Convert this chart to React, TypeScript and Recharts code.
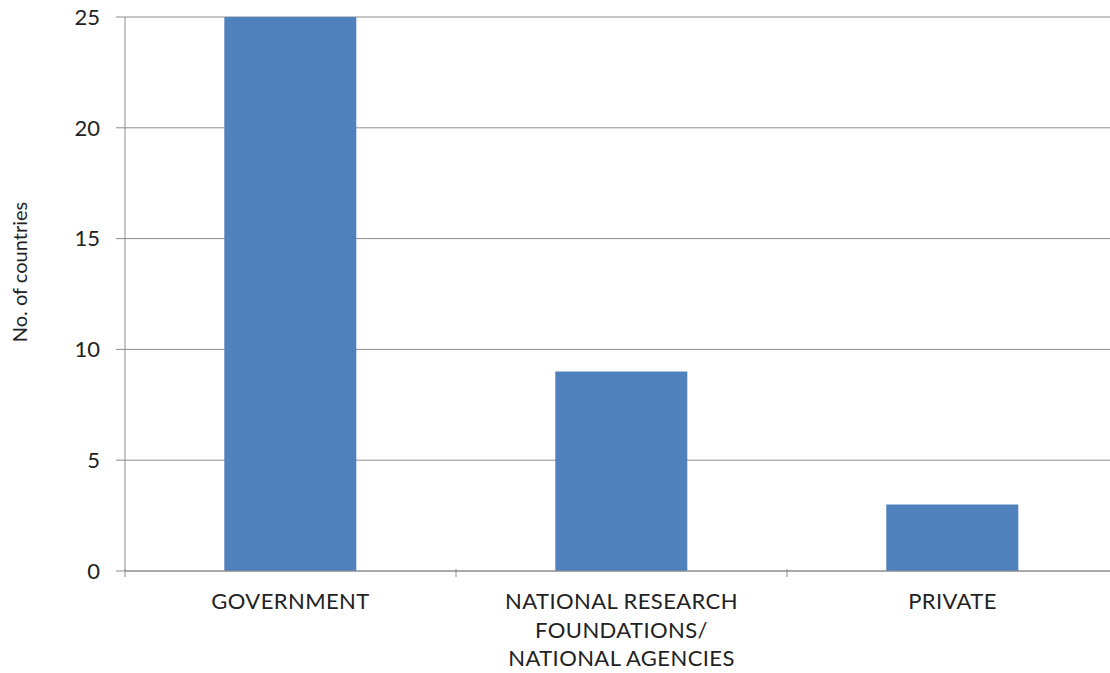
import React from 'react';
import { BarChart, Bar, XAxis, YAxis, CartesianGrid } from 'recharts';

const categories = ['GOVERNMENT', 'NATIONAL RESEARCH\nFOUNDATIONS/\nNATIONAL AGENCIES', 'PRIVATE'];
const countryCounts = [25, 9, 3];
const yTicks = [0, 5, 10, 15, 20, 25];

const data = categories.map((name, i) => ({ name, countries: countryCounts[i] }));

const FONT = 'Lato, "Open Sans", sans-serif';
const AXIS_GRAY = '#8c8c8c';
const TEXT = '#222';

const CategoryTick = (props: any) => {
  const { x, y, payload, index } = props;
  const half = payload.offset ?? 0;
  const lines: string[] = String(payload.value).split('\n');
  return (
    <g>
      {index === 0 && (
        <line x1={x - half} x2={x - half} y1={y - 10} y2={y - 2} stroke={AXIS_GRAY} />
      )}
      <line x1={x + half} x2={x + half} y1={y - 10} y2={y - 2} stroke={AXIS_GRAY} />
      <text x={x} y={y} textAnchor="middle" fill={TEXT} fontSize={22} letterSpacing={0.4} fontFamily={FONT}>
        {lines.map((l, i) => (
          <tspan key={i} x={x} dy={i === 0 ? 30 : 28.5}>
            {l}
          </tspan>
        ))}
      </text>
    </g>
  );
};

// vertical axis title, sitting a little above the plot's middle
const YTitle = (props: any) => {
  const { viewBox } = props;
  const cx = 19;
  const cy = viewBox.y + viewBox.height / 2 - 22;
  return (
    <text
      x={cx}
      y={cy}
      transform={`rotate(-90, ${cx}, ${cy})`}
      textAnchor="middle"
      dominantBaseline="central"
      fill={TEXT}
      fontSize={20}
      fontFamily={FONT}
    >
      No. of countries
    </text>
  );
};

export default function App() {
  return (
    <div style={{ position: 'absolute', left: 0, top: 0, width: 1110, height: 673, overflow: 'hidden', background: '#fff' }}>
      <BarChart
        width={1130}
        height={673}
        data={data}
        margin={{ top: 17, right: 12, bottom: 0, left: 0 }}
        barCategoryGap="30%"
      >
        <CartesianGrid vertical={false} stroke={AXIS_GRAY} />
        <XAxis
          dataKey="name"
          height={102}
          interval={0}
          tickLine={false}
          axisLine={{ stroke: AXIS_GRAY }}
          tick={<CategoryTick />}
        />
        <YAxis
          width={125}
          domain={[0, 25]}
          ticks={yTicks}
          tickSize={9}
          tickMargin={16}
          axisLine={{ stroke: AXIS_GRAY }}
          tickLine={{ stroke: AXIS_GRAY }}
          tick={{ fill: TEXT, fontSize: 22, fontFamily: FONT }}
          label={<YTitle />}
        />
        <Bar dataKey="countries" fill="#4F81BD" isAnimationActive={false} />
      </BarChart>
    </div>
  );
}
